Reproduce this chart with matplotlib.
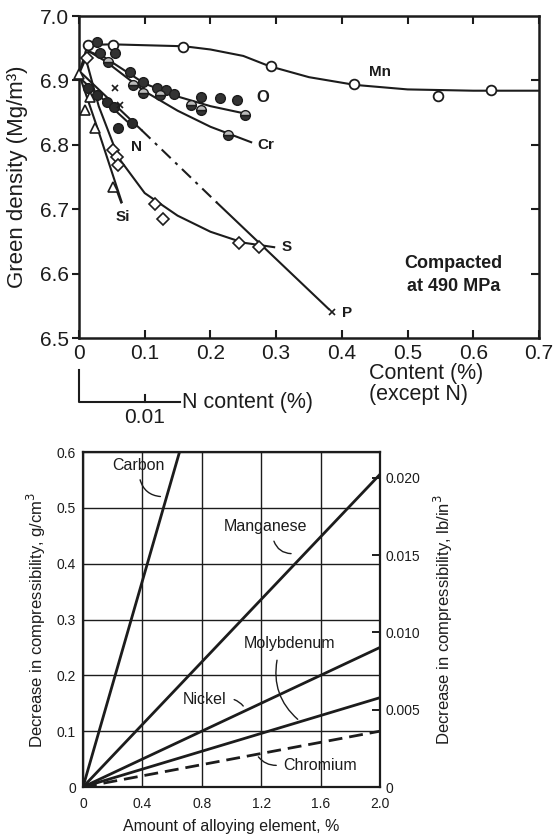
import matplotlib
matplotlib.use("Agg")
import matplotlib.pyplot as plt
import matplotlib.transforms as mtransforms

plt.rcParams['font.family'] = ['Liberation Sans', 'DejaVu Sans']

INK = '#1c1c1c'

# ---------------- top chart data (Content %, Green density Mg/m3) -------------
mn_x = [0.013, 0.052, 0.158, 0.292, 0.418, 0.547, 0.627]
mn_y = [6.955, 6.955, 6.952, 6.922, 6.894, 6.876, 6.885]
mn_curve_x = [0.0, 0.013, 0.05, 0.16, 0.20, 0.25, 0.29, 0.35, 0.42, 0.50, 0.60, 0.70]
mn_curve_y = [6.91, 6.955, 6.956, 6.953, 6.948, 6.938, 6.922, 6.905, 6.893, 6.886, 6.884, 6.884]

o_x = [0.027, 0.032, 0.055, 0.077, 0.097, 0.118, 0.133, 0.145, 0.186, 0.214, 0.241]
o_y = [6.960, 6.942, 6.943, 6.913, 6.898, 6.888, 6.885, 6.879, 6.874, 6.872, 6.870]
o2_x = [0.082, 0.097, 0.123, 0.171, 0.186, 0.252]
o2_y = [6.893, 6.880, 6.877, 6.862, 6.854, 6.846]
o_curve_x = [0.0, 0.015, 0.04, 0.10, 0.15, 0.20, 0.255]
o_curve_y = [6.91, 6.945, 6.935, 6.895, 6.875, 6.860, 6.848]

cr_x = [0.044, 0.226]
cr_y = [6.929, 6.815]
cr_curve_x = [0.015, 0.04, 0.10, 0.15, 0.20, 0.262]
cr_curve_y = [6.945, 6.930, 6.883, 6.853, 6.828, 6.804]

n_x = [0.014, 0.027, 0.042, 0.054, 0.060, 0.080]
n_y = [6.888, 6.877, 6.866, 6.859, 6.826, 6.834]
n_curve_x = [0.0, 0.08]
n_curve_y = [6.905, 6.830]

p_x = [0.055, 0.062, 0.385]
p_y = [6.888, 6.862, 6.540]
p_solid1_x = [0.0, 0.095]
p_solid1_y = [6.915, 6.823]
p_dash_x = [0.095, 0.21]
p_dash_y = [6.823, 6.710]
p_solid2_x = [0.21, 0.38]
p_solid2_y = [6.710, 6.545]

s_x = [0.012, 0.052, 0.058, 0.059, 0.115, 0.128, 0.244, 0.274]
s_y = [6.935, 6.792, 6.781, 6.769, 6.708, 6.685, 6.648, 6.642]
s_curve_x = [0.01, 0.03, 0.06, 0.10, 0.15, 0.20, 0.25, 0.297]
s_curve_y = [6.935, 6.860, 6.780, 6.725, 6.690, 6.665, 6.648, 6.641]

si_x = [0.0, 0.009, 0.017, 0.024, 0.052]
si_y = [6.910, 6.854, 6.874, 6.826, 6.735]
si_curve_x = [0.0, 0.03, 0.065]
si_curve_y = [6.910, 6.820, 6.711]

top_xticks = [0, 0.1, 0.2, 0.3, 0.4, 0.5, 0.6, 0.7]
top_xticklabels = ['0', '0.1', '0.2', '0.3', '0.4', '0.5', '0.6', '0.7']
top_yticks = [6.5, 6.6, 6.7, 6.8, 6.9, 7.0]
top_yticklabels = ['6.5', '6.6', '6.7', '6.8', '6.9', '7.0']
n_per_content = 0.1          # 0.01 % N corresponds to 0.1 on the content scale
n_tick = 0.01

# ---------------- bottom chart data (alloy %, decrease g/cm3) ----------------
carbon_x = [0.0, 0.65]
carbon_y = [0.0, 0.60]
manganese_x = [0.0, 2.0]
manganese_y = [0.0, 0.56]
nickel_x = [0.0, 2.0]
nickel_y = [0.0, 0.25]
molyb_x = [0.0, 2.0]
molyb_y = [0.0, 0.16]
chromium_x = [0.0, 2.0]
chromium_y = [0.0, 0.10]
bot_xticks = [0, 0.4, 0.8, 1.2, 1.6, 2.0]
bot_xticklabels = ['0', '0.4', '0.8', '1.2', '1.6', '2.0']
bot_yticks = [0, 0.1, 0.2, 0.3, 0.4, 0.5, 0.6]
bot_yticklabels = ['0', '0.1', '0.2', '0.3', '0.4', '0.5', '0.6']
gcc_to_lbin3 = 0.036127
right_ticks = [0, 0.005, 0.010, 0.015, 0.020]
right_ticklabels = ['0', '0.005', '0.010', '0.015', '0.020']

W, H = 553, 838
fig = plt.figure(figsize=(W / 100, H / 100), dpi=100)
fig.patch.set_facecolor('white')

def fx(px):
    return px / W

def fy(py):
    return 1 - py / H

# ======================= TOP CHART ==========================================
ax = fig.add_axes([fx(79), fy(338), fx(539) - fx(79), fy(16) - fy(338)])
ax.set_xlim(0, 0.7)
ax.set_ylim(6.5, 7.0)
for sp in ax.spines.values():
    sp.set_linewidth(1.8)
    sp.set_color(INK)

lw = 1.5
ax.plot(mn_curve_x, mn_curve_y, color=INK, lw=lw, zorder=2)
ax.plot(o_curve_x, o_curve_y, color=INK, lw=lw, zorder=2)
ax.plot(cr_curve_x, cr_curve_y, color=INK, lw=lw, zorder=2)
ax.plot(n_curve_x, n_curve_y, color=INK, lw=lw, zorder=2)
ax.plot(p_solid1_x, p_solid1_y, color=INK, lw=lw, zorder=2)
ax.plot(p_dash_x, p_dash_y, color=INK, lw=lw, ls=(0, (6, 3, 1.5, 3)), zorder=2)
ax.plot(p_solid2_x, p_solid2_y, color=INK, lw=lw, zorder=2)
ax.plot(s_curve_x, s_curve_y, color=INK, lw=lw, zorder=2)
ax.plot(si_curve_x, si_curve_y, color=INK, lw=lw, zorder=2)

ms = 7
ax.plot(mn_x, mn_y, 'o', ms=ms, mfc='white', mec=INK, mew=1.3, zorder=3, clip_on=False)
ax.plot(o_x, o_y, 'o', ms=ms, mfc='#333333', mec=INK, mew=1.0, zorder=3)
ax.plot(o2_x, o2_y, 'o', ms=ms, mfc='#333333', mfcalt='#bbbbbb', fillstyle='bottom',
        mec=INK, mew=1.0, zorder=3)
ax.plot(cr_x, cr_y, 'o', ms=ms, mfc='#333333', mfcalt='#bbbbbb', fillstyle='bottom',
        mec=INK, mew=1.0, zorder=3)
ax.plot(n_x, n_y, 'o', ms=ms, mfc='#2a2a2a', mec=INK, mew=1.0, zorder=3)
ax.plot(p_x, p_y, 'x', ms=5, mec=INK, mew=1.2, zorder=3)
ax.plot(s_x, s_y, 'D', ms=6, mfc='white', mec=INK, mew=1.2, zorder=3)
ax.plot(si_x, si_y, '^', ms=7, mfc='white', mec=INK, mew=1.2, zorder=3, clip_on=False)

lab_fs = 11
ax.text(0.441, 6.913, 'Mn', fontsize=lab_fs, fontweight='bold', color=INK, va='center')
ax.text(0.270, 6.873, 'O', fontsize=lab_fs + 1, fontweight='bold', color=INK, va='center')
ax.text(0.272, 6.800, 'Cr', fontsize=lab_fs, fontweight='bold', color=INK, va='center')
ax.text(0.088, 6.797, 'N', fontsize=lab_fs, fontweight='bold', color=INK, va='center', ha='center')
ax.text(0.400, 6.539, 'P', fontsize=lab_fs, fontweight='bold', color=INK, va='center')
ax.text(0.308, 6.641, 'S', fontsize=lab_fs, fontweight='bold', color=INK, va='center')
ax.text(0.067, 6.688, 'Si', fontsize=lab_fs, fontweight='bold', color=INK, va='center', ha='center')
ax.plot([0.055, 0.064], [6.735, 6.710], color=INK, lw=1.2)
ax.text(0.570, 6.598, 'Compacted\nat 490 MPa', fontsize=13, fontweight='bold', color=INK,
        ha='center', va='center', linespacing=1.5)

ax.set_xticks(top_xticks)
ax.set_xticklabels(top_xticklabels)
ax.set_yticks(top_yticks)
ax.set_yticklabels(top_yticklabels)
ax.tick_params(axis='x', direction='in', length=6, width=1.5, labelsize=15, pad=4,
               top=True, colors=INK)
ax.tick_params(axis='y', direction='out', length=5, width=1.5, labelsize=15, pad=2,
               colors=INK)
# right-side inward ticks (no labels)
axr = ax.twinx()
axr.set_ylim(6.5, 7.0)
axr.set_yticks([6.6, 6.7, 6.8, 6.9])
axr.tick_params(axis='y', direction='in', length=6, width=1.5, labelright=False, colors=INK)
for sp in axr.spines.values():
    sp.set_visible(False)

fig.text(fx(18), fy(177), 'Green density (Mg/m³)', rotation=90, fontsize=16,
         ha='center', va='center', color=INK)

tr = mtransforms.blended_transform_factory(ax.transData, ax.transAxes)
# content axis label
ax.text(0.441, -0.109, 'Content (%)', transform=tr, fontsize=15.5, va='center', ha='left', color=INK)
ax.text(0.441, -0.177, '(except N)', transform=tr, fontsize=15.5, va='center', ha='left', color=INK)

# N content sub-axis
n_end = 0.153
ax.plot([0, 0, n_end], [-0.099, -0.199, -0.199], transform=tr, color=INK, lw=1.5, clip_on=False)
ax.plot([n_tick / 0.01 * n_per_content] * 2, [-0.199, -0.178], transform=tr, color=INK,
        lw=1.5, clip_on=False)
ax.text(n_end + 0.004, -0.199, 'N content (%)', transform=tr, fontsize=15.5, va='center',
        ha='left', color=INK)
ax.text(n_tick / 0.01 * n_per_content, -0.248, '0.01', transform=tr, fontsize=15,
        va='center', ha='center', color=INK)

# ======================= BOTTOM CHART =======================================
bx = fig.add_axes([fx(83), fy(787), fx(380) - fx(83), fy(452) - fy(787)])
bx.set_xlim(0, 2.0)
bx.set_ylim(0, 0.6)
for sp in bx.spines.values():
    sp.set_linewidth(1.6)
    sp.set_color(INK)
bx.set_xticks(bot_xticks)
bx.set_xticklabels(bot_xticklabels)
bx.set_yticks(bot_yticks)
bx.set_yticklabels(bot_yticklabels)
bx.tick_params(axis='both', length=0, labelsize=10, colors=INK)
bx.tick_params(axis='x', pad=7)
bx.tick_params(axis='y', pad=5)
bx.grid(True, color=INK, lw=1.0)

blw = 2.0
bx.plot(carbon_x, carbon_y, color=INK, lw=blw)
bx.plot(manganese_x, manganese_y, color=INK, lw=blw)
bx.plot(nickel_x, nickel_y, color=INK, lw=blw)
bx.plot(molyb_x, molyb_y, color=INK, lw=blw)
bx.plot(chromium_x, chromium_y, color=INK, lw=blw, ls=(0, (5, 2.5)))

tfs = 11.5
bx.text(0.37, 0.575, 'Carbon', fontsize=tfs, ha='center', va='center', color=INK)
bx.annotate('', xy=(0.54, 0.52), xytext=(0.38, 0.555),
            arrowprops=dict(arrowstyle='-', color=INK, lw=1.0, connectionstyle='arc3,rad=0.4'))
bx.text(1.23, 0.467, 'Manganese', fontsize=tfs, ha='center', va='center', color=INK)
bx.annotate('', xy=(1.42, 0.418), xytext=(1.28, 0.445),
            arrowprops=dict(arrowstyle='-', color=INK, lw=1.0, connectionstyle='arc3,rad=0.4'))
bx.text(0.82, 0.157, 'Nickel', fontsize=tfs, ha='center', va='center', color=INK)
bx.annotate('', xy=(1.09, 0.141), xytext=(1.0, 0.158),
            arrowprops=dict(arrowstyle='-', color=INK, lw=1.0, connectionstyle='arc3,rad=-0.2'))
bx.text(1.39, 0.257, 'Molybdenum', fontsize=tfs, ha='center', va='center', color=INK)
bx.annotate('', xy=(1.46, 0.118), xytext=(1.31, 0.232),
            arrowprops=dict(arrowstyle='-', color=INK, lw=1.0, connectionstyle='arc3,rad=0.3'))
bx.text(1.35, 0.039, 'Chromium', fontsize=tfs, ha='left', va='center', color=INK)
bx.annotate('', xy=(1.17, 0.058), xytext=(1.32, 0.039),
            arrowprops=dict(arrowstyle='-', color=INK, lw=1.0, connectionstyle='arc3,rad=-0.3'))

bx.set_xlabel('Amount of alloying element, %', fontsize=11.5, color=INK, labelpad=6)
bx.set_ylabel('Decrease in compressibility, g/cm$^3$', fontsize=12, color=INK, labelpad=6)

bxr = bx.twinx()
bxr.set_ylim(0, 0.6 * gcc_to_lbin3)
bxr.set_yticks(right_ticks)
bxr.set_yticklabels(right_ticklabels)
bxr.tick_params(axis='y', direction='in', length=6, width=1.4, labelsize=10, pad=4, colors=INK)
for sp in bxr.spines.values():
    sp.set_visible(False)
bxr.set_ylabel('Decrease in compressibility, lb/in$^3$', fontsize=12, color=INK, labelpad=8)

fig.savefig('out.png', dpi=100, facecolor='white')
